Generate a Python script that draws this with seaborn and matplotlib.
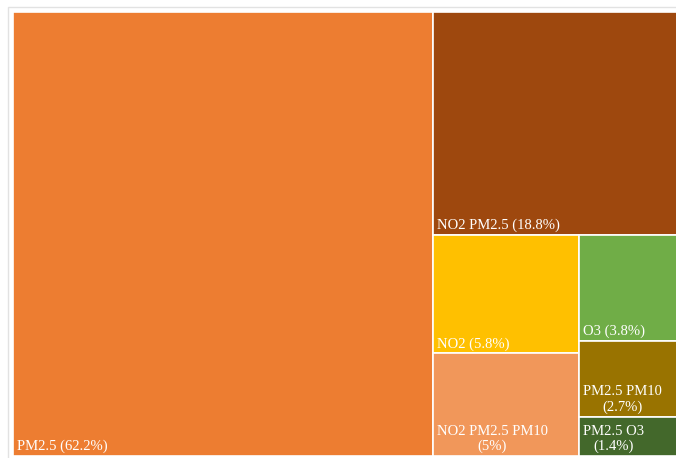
import numpy as np
import seaborn as sns
import matplotlib.pyplot as plt
from matplotlib.patches import Rectangle

# data
labels = ['PM2.5', 'NO2 PM2.5', 'NO2', 'NO2 PM2.5 PM10', 'O3', 'PM2.5 PM10', 'PM2.5 O3']
shares = [62.2, 18.8, 5.8, 5, 3.8, 2.7, 1.4]
colors = ['#ED7D31', '#9E480E', '#FFC000', '#F1975A', '#70AD47', '#997300', '#43682B']


def worst(row, side):
    s = sum(row)
    return max(max(side * side * r / (s * s), s * s / (side * side * r)) for r in row)


def layout(areas, x, y, w, h):
    # squarified treemap, returns list of (x, y, w, h)
    rects = []
    areas = list(areas)
    while areas:
        side = min(w, h)
        row = [areas.pop(0)]
        while areas and worst(row + [areas[0]], side) <= worst(row, side):
            row.append(areas.pop(0))
        s = sum(row)
        if w >= h:
            rw = s / h
            yy = y
            for a in row:
                rects.append((x, yy, rw, a / rw))
                yy += a / rw
            x += rw
            w -= rw
        else:
            rh = s / w
            xx = x
            for a in row:
                rects.append((xx, y, a / rh, rh))
                xx += a / rh
            y += rh
            h -= rh
    return rects


sns.set_theme(style='white')
plt.rcParams['font.family'] = ['Liberation Serif', 'DejaVu Serif']

W, H = 673.0, 444.0
total = sum(shares)
areas = [v / total * W * H for v in shares]
rects = layout(areas, 0, 0, W, H)

fig = plt.figure(figsize=(6.76, 4.58), dpi=100)
fig.patches.append(Rectangle((8 / 676, -0.1), 1.2, (458 - 7) / 458 + 0.1,
                             transform=fig.transFigure, fill=False,
                             edgecolor='#e2e2e2', linewidth=1.0))
ax = fig.add_axes([13 / 676, 2 / 458, W / 676, H / 458])

for (x, y, w, h), c in zip(rects, colors):
    ax.bar(x, h, width=w, bottom=y, align='edge', color=c,
           edgecolor='white', linewidth=1.2)

ax.set_xlim(0, W)
ax.set_ylim(H, 0)
ax.axis('off')

fig.canvas.draw()
renderer = fig.canvas.get_renderer()
for (x, y, w, h), name, v in zip(rects, labels, shares):
    txt = f'{name} ({v:g}%)'
    t = ax.text(x + 4, y + h - 6, txt, color='white', fontsize=10.5,
                ha='left', va='baseline', multialignment='center')
    if t.get_window_extent(renderer).width > w - 8:
        t.set_text(f'{name}\n({v:g}%)')

fig.savefig('out.png', dpi=100)
